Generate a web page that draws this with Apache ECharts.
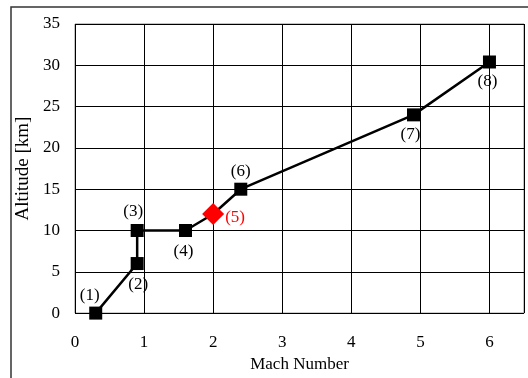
<!DOCTYPE html>
<html><head><meta charset="utf-8">
<script src="https://cdn.jsdelivr.net/npm/echarts@6/dist/echarts.min.js"></script>
<style>html,body{margin:0;padding:0;background:#fff}#c{width:528px;height:378px}</style>
</head><body><div id="c"></div>
<script>
const mach = [0.3, 0.9, 0.9, 1.6, 2.0, 2.4, 4.9, 6.0];
const altitude = [0, 6, 10, 10, 12, 15, 24, 30.4];
const pointLabels = ['(1)', '(2)', '(3)', '(4)', '(5)', '(6)', '(7)', '(8)'];
const highlightIndex = 4;

const labelCfg = [
  {position: 'top', offset: [-6, 2]},
  {position: 'bottom', offset: [1, 1]},
  {position: 'top', offset: [-4, 1]},
  {position: 'bottom', offset: [-2, 1]},
  {position: 'right', offset: [-4, 4]},
  {position: 'top', offset: [0, 2]},
  {position: 'bottom', offset: [-3, 0]},
  {position: 'bottom', offset: [-2, 0]}
];

const font = 'Liberation Serif';
const data = mach.map((m, i) => {
  const d = {value: [m, altitude[i]], label: Object.assign({show: true, formatter: pointLabels[i]}, labelCfg[i])};
  if (i === highlightIndex) {
    d.symbol = 'diamond';
    d.symbolSize = 22;
    d.itemStyle = {color: '#ff0000'};
    d.label.color = '#ff0000';
  }
  return d;
});

const chart = echarts.init(document.getElementById('c'), null, {renderer: 'canvas'});
chart.setOption({
  animation: false,
  backgroundColor: '#fff',
  graphic: [{type: 'rect', shape: {x: 11, y: 7, width: 560, height: 420}, style: {fill: 'none', stroke: '#333', lineWidth: 1.5}, silent: true}],
  grid: {left: 75, top: 24, right: 4, bottom: 63, show: true, borderColor: '#888', borderWidth: 1},
  xAxis: {
    type: 'value', min: 0, max: 6.5, interval: 1,
    name: 'Mach Number', nameLocation: 'middle', nameGap: 40,
    nameTextStyle: {fontFamily: font, fontSize: 17, color: '#000'},
    axisLine: {show: false}, axisTick: {show: false},
    axisLabel: {fontFamily: font, fontSize: 17, color: '#000', margin: 21,
      formatter: v => (Math.abs(v - Math.round(v)) < 1e-9 ? String(Math.round(v)) : '')},
    splitLine: {show: true, lineStyle: {color: '#000', width: 1}}
  },
  yAxis: {
    type: 'value', min: 0, max: 35, interval: 5,
    name: 'Altitude [km]', nameLocation: 'middle', nameGap: 35,
    nameTextStyle: {fontFamily: font, fontSize: 19, color: '#000'},
    axisLine: {show: false}, axisTick: {show: false},
    axisLabel: {fontFamily: font, fontSize: 17, color: '#000', margin: 15},
    splitLine: {show: true, lineStyle: {color: '#000', width: 1}}
  },
  series: [{
    type: 'line', data: data,
    symbol: 'rect', symbolSize: 13,
    lineStyle: {color: '#000', width: 2.5},
    itemStyle: {color: '#000'},
    label: {fontFamily: font, fontSize: 17, color: '#000', distance: 5},
    z: 3
  }]
});
</script></body></html>
